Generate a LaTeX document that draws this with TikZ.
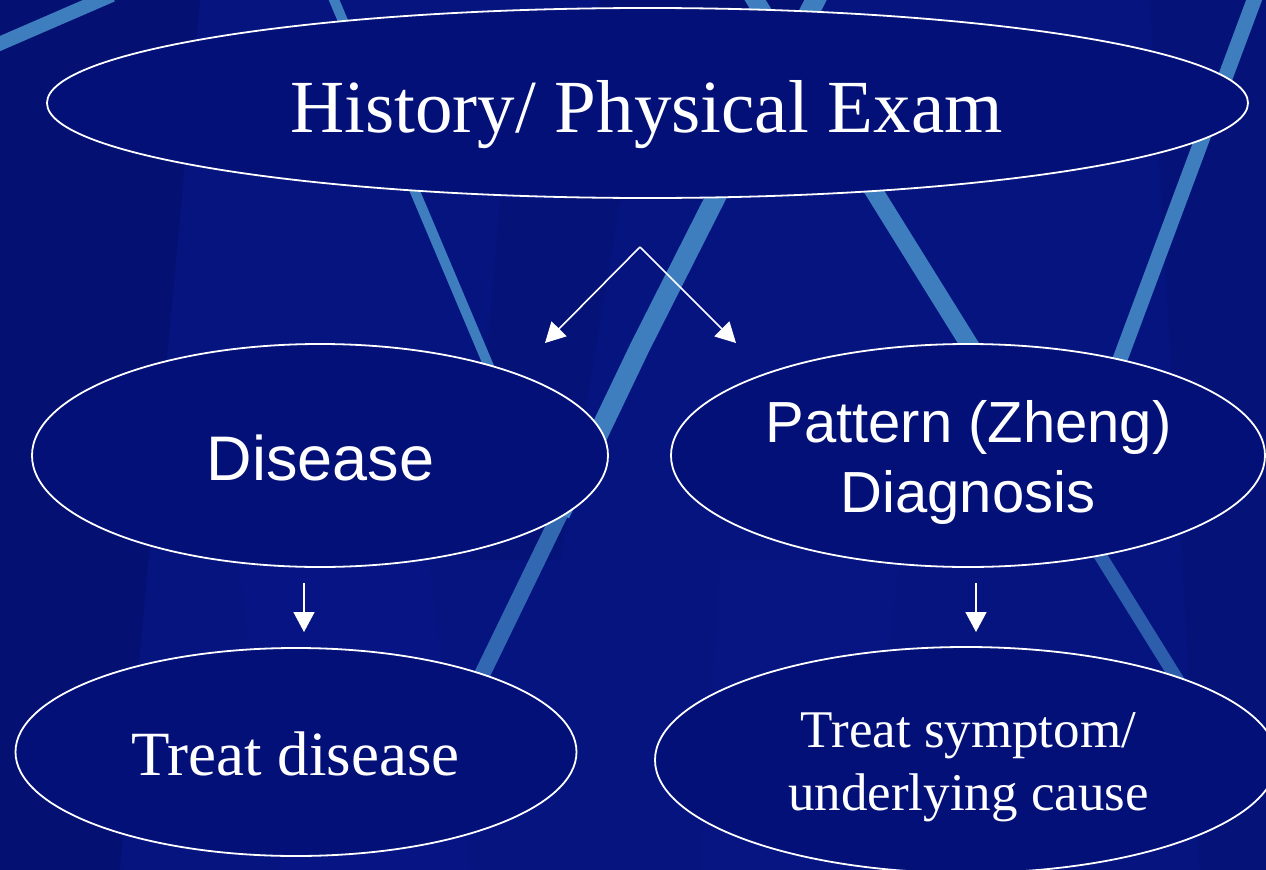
\documentclass[tikz,border=0pt]{standalone}
\usepackage{fontspec}
\setmainfont{Liberation Serif}
\newfontfamily\arialfont{Liberation Sans}
\usetikzlibrary{shapes.geometric,arrows.meta}
\definecolor{bgblue}{RGB}{6,20,128}
\definecolor{bgdark}{RGB}{3,10,88}
\definecolor{bglight}{RGB}{10,28,145}
\definecolor{ellfill}{RGB}{3,16,120}
\definecolor{stripeblue}{RGB}{62,126,190}
\tikzset{
  ell/.style={ellipse, draw=white, line width=1.8bp, fill=ellfill, inner sep=0pt},
  stripe/.style={draw=stripeblue, line cap=butt},
  arr/.style={draw=white, line width=1.6bp, -{Triangle[width=21bp,length=20bp]}},
  serifT/.style={text=white, inner sep=0pt, anchor=base},
  sansT/.style={text=white, inner sep=0pt, anchor=base, font=\arialfont},
}
\begin{document}
\begin{tikzpicture}[x=1bp,y=-1bp]
\useasboundingbox (0,0) rectangle (1266,870);
\begin{scope}
\clip (0,0) rectangle (1266,870);
% background
\fill[bgblue] (0,0) rectangle (1266,870);
\fill[bgdark, opacity=0.35] (0,0) -- (200,0) -- (120,870) -- (0,870) -- cycle;
\fill[bgdark, opacity=0.30] (600,0) -- (820,0) -- (700,200) -- (560,200) -- cycle;
\fill[bgdark, opacity=0.20] (1150,0) -- (1266,0) -- (1266,870) -- (1200,870) -- cycle;
\fill[bglight, opacity=0.20] (230,500) -- (420,500) -- (470,870) -- (280,870) -- cycle;
\fill[bglight, opacity=0.15] (720,560) -- (900,560) -- (860,870) -- (700,870) -- cycle;
\fill[bgdark, opacity=0.20] (500,200) -- (620,200) -- (560,560) -- (470,560) -- cycle;
% light diagonal stripes
\draw[stripe, line width=14bp] (-8,47) -- (112,-5);
\draw[stripe, line width=10bp] (332,-5) -- (520,440);
\draw[stripe, line width=20bp] (818,-5) -- (640,347) -- (560,514);
\draw[stripe, line width=16bp, opacity=0.8] (560,514) -- (460,720);
\draw[stripe, line width=18bp] (752,-5) -- (1000,394);
\draw[stripe, line width=13bp, opacity=0.7] (1000,394) -- (1190,700);
\draw[stripe, line width=15bp] (1256,-5) -- (1060,520);
\end{scope}

% ellipses
\node[ell, minimum width=1201bp, minimum height=190bp] (hist) at (647.5,103) {};
\node[ell, minimum width=576bp, minimum height=223bp] (dis) at (320,455.5) {};
\node[ell, minimum width=594bp, minimum height=223bp] (pat) at (968,455.5) {};
\node[ell, minimum width=561bp, minimum height=208bp] (trd) at (296,752) {};
\node[ell, minimum width=622bp, minimum height=226bp] (trs) at (966,760) {};

% texts
\node[serifT, font=\fontsize{75bp}{90bp}\selectfont] (histT) at (646.5,132) {History/ Physical Exam};
\node[sansT, font=\arialfont\fontsize{63bp}{75bp}\selectfont] (disT) at (320.5,480) {Disease};
\node[sansT, font=\arialfont\fontsize{58bp}{70bp}\selectfont] (patT1) at (968.5,442) {Pattern (Zheng)};
\node[sansT, font=\arialfont\fontsize{58bp}{70bp}\selectfont] (patT2) at (968,512) {Diagnosis};
\node[serifT, font=\fontsize{63bp}{75bp}\selectfont] (trdT) at (295.5,775) {Treat disease};
\node[serifT, font=\fontsize{53bp}{63bp}\selectfont] (trsT1) at (968.5,747) {Treat symptom/};
\node[serifT, font=\fontsize{53bp}{63bp}\selectfont] (trsT2) at (968.5,810) {underlying cause};

% connectors
\coordinate (fork) at (640,247);
\coordinate (forkL) at (545,343);
\coordinate (forkR) at (736,343);
\draw[arr] (fork) -- (forkL);
\draw[arr] (fork) -- (forkR);
\coordinate (dL1) at (304,583);
\coordinate (dL2) at (304,632);
\coordinate (dR1) at (976,583);
\coordinate (dR2) at (976,632);
\draw[arr] (dL1) -- (dL2);
\draw[arr] (dR1) -- (dR2);
\end{tikzpicture}
\end{document}
